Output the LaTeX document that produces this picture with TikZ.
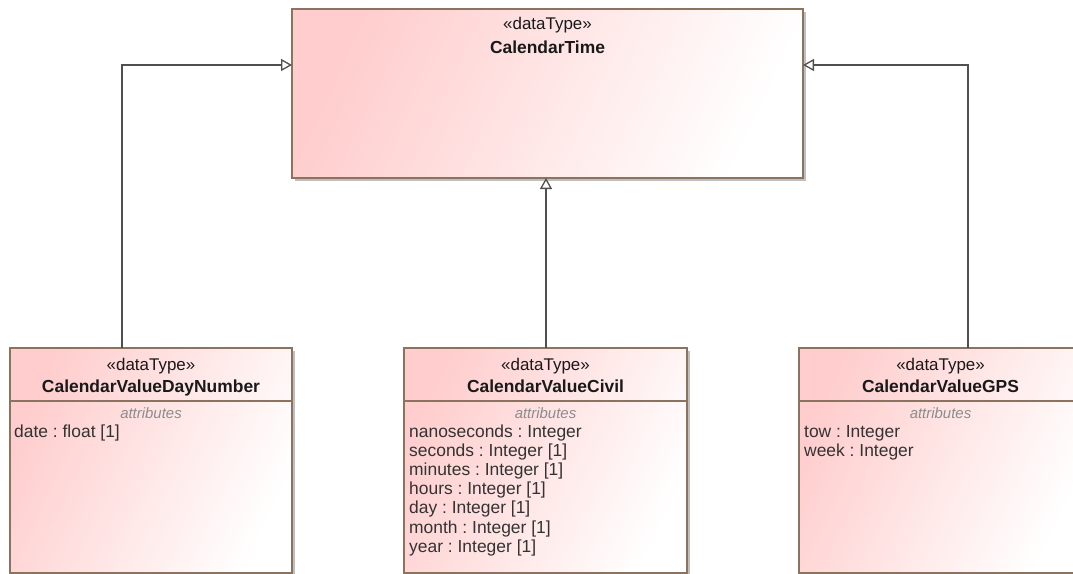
\documentclass[tikz,border=0pt]{standalone}
\usepackage{fontspec}
\setmainfont{Liberation Sans}
\usetikzlibrary{arrows.meta,shadows}
\frenchspacing

\definecolor{dtpink}{RGB}{255,205,205}
\definecolor{dtline}{RGB}{140,115,95}
\definecolor{linkgray}{RGB}{80,80,80}
\definecolor{attrgray}{RGB}{140,140,140}
\definecolor{txtdark}{RGB}{25,25,25}

\tikzset{
  dtbox/.style={draw=dtline, line width=1.2bp, anchor=north west, inner sep=0pt, outer sep=0pt,
    left color=dtpink, right color=white, shading angle=65,
    drop shadow={shadow xshift=3bp, shadow yshift=-3bp, fill=black!25, opacity=1}},
  stereo/.style={anchor=base, inner sep=0pt, font=\fontsize{17}{19}\selectfont, text=txtdark},
  dtname/.style={anchor=base, inner sep=0pt, font=\fontsize{17.5}{19}\selectfont\bfseries, text=txtdark},
  compart/.style={anchor=base, inner sep=0pt, font=\fontsize{15}{17}\selectfont\itshape, text=attrgray},
  attr/.style={anchor=base west, inner sep=0pt, font=\fontsize{17.5}{19.2}\selectfont, text=black!80},
  gen/.style={draw=linkgray, line width=1.3bp, -{Triangle[open, length=11bp, width=12bp]}}
}

\begin{document}
\begin{tikzpicture}[x=1bp, y=-1bp]
  \useasboundingbox (0,0) rectangle (1073,574);

  % top data type
  \node[dtbox, minimum width=511bp, minimum height=169bp] (ct) at (292,9) {};
  \node[stereo] (ctst) at ([yshift=-20.5bp]ct.north) {«dataType»};
  \node[dtname] (ctnm) at ([yshift=-45bp]ct.north) {CalendarTime};

  % day number
  \node[dtbox, minimum width=282bp, minimum height=225bp] (dn) at (10,348) {};
  \node[stereo] (dnst) at ([yshift=-22bp]dn.north) {«dataType»};
  \node[dtname] (dnnm) at ([yshift=-44bp]dn.north) {CalendarValueDayNumber};
  \draw[draw=dtline, line width=1.2bp] ([yshift=-53bp]dn.north west) -- ([yshift=-53bp]dn.north east);
  \node[compart] (dnat) at ([yshift=-70bp]dn.north) {attributes};
  \node[attr] (dna0) at ([xshift=4bp, yshift=-89bp]dn.north west) {date : float [1]};

  % civil
  \node[dtbox, minimum width=283bp, minimum height=225bp] (cv) at (404,348) {};
  \node[stereo] (cvst) at ([yshift=-22bp]cv.north) {«dataType»};
  \node[dtname] (cvnm) at ([yshift=-44bp]cv.north) {CalendarValueCivil};
  \draw[draw=dtline, line width=1.2bp] ([yshift=-53bp]cv.north west) -- ([yshift=-53bp]cv.north east);
  \node[compart] (cvat) at ([yshift=-70bp]cv.north) {attributes};
  \foreach \txt [count=\i from 0] in {nanoseconds : Integer, seconds : Integer [1],
      minutes : Integer [1], hours : Integer [1], day : Integer [1],
      month : Integer [1], year : Integer [1]}
    \node[attr] (cva\i) at ([xshift=5bp, yshift={-89bp-\i*19.2bp}]cv.north west) {\txt};

  % gps
  \node[dtbox, minimum width=283bp, minimum height=225bp] (gps) at (799,348) {};
  \node[stereo] (gpsst) at ([yshift=-22bp]gps.north) {«dataType»};
  \node[dtname] (gpsnm) at ([yshift=-44bp]gps.north) {CalendarValueGPS};
  \draw[draw=dtline, line width=1.2bp] ([yshift=-53bp]gps.north west) -- ([yshift=-53bp]gps.north east);
  \node[compart] (gpsat) at ([yshift=-70bp]gps.north) {attributes};
  \node[attr] (gpsa0) at ([xshift=5bp, yshift=-89bp]gps.north west) {tow : Integer};
  \node[attr] (gpsa1) at ([xshift=5bp, yshift=-108.2bp]gps.north west) {week : Integer};

  % generalizations
  \coordinate (ctl) at ([yshift=-56bp]ct.north west);
  \coordinate (ctr) at ([yshift=-56bp]ct.north east);
  \coordinate (cvtop) at ([xshift=0.5bp]cv.north);
  \draw[gen] ([xshift=112bp]dn.north west) |- (ctl);
  \draw[gen] (cvtop) -- (cvtop |- ct.south);
  \draw[gen] ([xshift=169bp]gps.north west) |- (ctr);
\end{tikzpicture}
\end{document}
